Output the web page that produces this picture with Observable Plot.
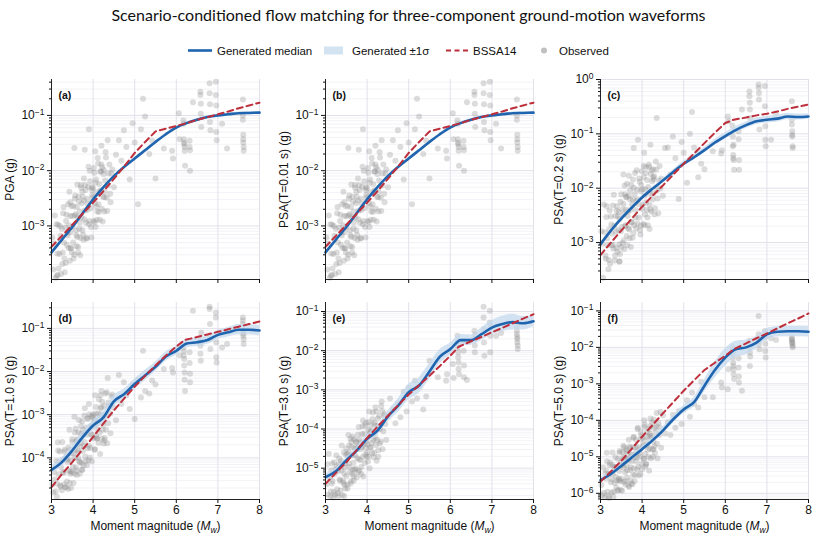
<!DOCTYPE html>
<html>
<head>
<meta charset="utf-8">
<script src="https://cdn.jsdelivr.net/npm/d3@7"></script>
<script src="https://cdn.jsdelivr.net/npm/@observablehq/plot@0.6"></script>
<style>
  body { margin: 0; background: #fff; }
  #fig { position: relative; width: 817px; height: 536px; overflow: hidden; background: #fff;
         font-family: "Liberation Sans", Arial, sans-serif; }
  #title { position: absolute; left: 0; top: 5px; width: 817px; text-align: center;
           font-family: Lato, "Open Sans", sans-serif; font-size: 16px; color: #111; }
  .panel { position: absolute; }
  .panel svg { overflow: visible; }
</style>
</head>
<body>
<div id="fig">
  <div id="title">Scenario-conditioned flow matching for three-component ground-motion waveforms</div>
</div>
<script>
// ---------- Observed records (moment magnitude, shared by all intensity measures) ----------
const obsMw = [
  3.02,3.04,3.06,3.1,3.12,3.14,3.17,3.2,3.21,3.23,3.25,3.27,3.28,3.3,3.31,3.33,3.34,3.36,3.37,3.38,3.4,3.41,3.42,3.44,3.45,3.46,3.47,3.48,3.49,3.5,
  3.52,3.53,3.55,3.56,3.57,3.59,3.6,3.61,3.63,3.64,3.65,3.67,3.68,3.7,3.71,3.72,3.74,3.75,3.77,3.78,3.8,3.81,3.83,3.85,3.86,3.88,3.9,3.92,3.94,3.95,3.97,3.99,
  4.0,4.01,4.03,4.04,4.06,4.07,4.09,4.1,4.12,4.13,4.15,4.16,4.18,4.19,4.21,4.22,4.24,4.25,4.27,4.29,4.31,4.33,4.36,4.39,4.42,4.46,4.5,4.55,
  4.62,4.68,4.74,4.8,4.88,4.95,5.0,5.08,5.15,5.2,5.25,5.35,5.42,5.5,
  5.7,5.9,5.92,6.06,6.08,6.17,6.18,6.18,6.19,6.19,6.2,6.2,6.21,6.32,6.32,6.33,6.33,6.4,
  6.58,6.58,6.59,6.59,6.6,6.8,6.8,6.81,6.81,6.82,6.95,6.95,6.96,6.96,6.97,7.1,7.22,
  7.6,7.6,7.6,7.61,7.61,7.61,7.62,7.62,
  3.55,3.8,3.9,4.05,4.2,4.35,
  3.08,3.13,3.16,3.19,3.22,3.26,3.29,3.32,3.35,3.39,3.43,3.46,3.5,3.53,3.56,3.58,3.6,3.62,3.64,3.66,
  3.68,3.69,3.71,3.73,3.76,3.78,3.79,3.82,3.84,3.87,3.89,3.91,3.93,3.96,3.98,4.02,4.04,4.06,4.08,4.11,
  4.14,4.17,4.2,4.23,4.26,4.28,4.3,4.34,4.37,4.41,3.15,3.45,3.62,3.74,3.86,3.97,4.09,4.18,4.27,4.44
];

// Observed log10 amplitudes (g), one entry per record above
const obsPGA = [
  -3.21,-3.79,-3.32,-3.94,-2.97,-3.50,-3.77,-3.00,-3.24,-3.87,-3.05,-3.48,-2.77,-3.30,-3.59,-3.03,-3.67,-2.80,-3.34,-3.13,-2.61,-3.40,-2.99,-3.63,-2.82,-3.11,-3.40,-2.64,-3.48,-2.82,
  -3.30,-2.64,-3.52,-2.81,-2.45,-3.08,-3.37,-2.66,-2.84,-3.48,-2.47,-3.05,-2.74,-3.22,-2.26,-2.85,-3.08,-2.47,-3.25,-2.54,-2.72,-2.26,-2.94,-3.22,-2.51,-2.29,-2.97,-2.00,-2.68,-3.02,-2.30,-2.48,
  -2.32,-2.91,-2.04,-2.59,-3.02,-2.16,-2.39,-2.74,-1.87,-2.61,-2.24,-2.89,-2.02,-2.36,-2.69,-1.94,-2.47,-2.06,-2.74,-2.18,-1.76,-2.49,-2.27,-1.89,-2.57,-1.98,-2.30,-1.71,
  -1.45,-1.82,-1.27,-1.57,-2.16,-1.14,-1.49,-2.61,-1.25,-0.70,-1.02,-1.70,-1.46,-2.14,
  -1.60,-1.64,-1.78,-0.96,-1.43,-1.09,-1.15,-1.43,-1.49,-1.52,-1.57,-1.64,-1.91,-1.46,-1.57,-1.63,-2.00,-0.76,
  -0.57,-0.63,-0.79,-0.97,-1.21,-0.42,-0.60,-0.80,-1.12,-1.27,-0.39,-0.63,-0.82,-1.30,-1.45,-1.15,-1.60,
  -0.71,-1.00,-1.08,-1.35,-1.43,-1.49,-1.57,-1.64,
  -1.59,-1.62,-1.25,-1.65,-1.55,-1.45,
  -2.81,-3.90,-2.98,-3.51,-3.18,-3.69,-2.66,-3.84,-2.91,-3.17,-2.38,-3.41,-3.02,-3.59,-2.51,-2.79,-3.17,-2.25,-3.38,-2.56,
  -2.94,-3.53,-2.31,-2.59,-3.16,-2.14,-2.88,-2.35,-3.23,-2.60,-1.93,-2.91,-2.19,-3.21,-2.44,-1.95,-2.93,-2.22,-2.65,-1.77,
  -2.75,-2.37,-1.89,-2.92,-1.99,-2.38,-1.66,-2.73,-2.05,-2.42,-3.89,-2.57,-3.20,-2.38,-2.71,-2.35,-2.89,-2.01,-2.48,-2.05
];
const obsT001 = obsPGA; // PSA at T = 0.01 s coincides with PGA
const obsT02 = [
  -2.79,-3.02,-3.65,-2.81,-3.24,-2.53,-3.05,-3.32,-2.76,-3.39,-2.52,-3.05,-2.84,-2.32,-3.11,-2.69,-3.33,-2.51,-2.80,-3.10,-2.33,-3.17,-2.51,-2.44,-3.03,-2.57,-3.21,-2.25,-2.79,-3.08,
  -2.71,-3.01,-2.29,-2.48,-3.12,-2.11,-2.70,-2.39,-2.88,-1.92,-2.51,-2.74,-2.14,-2.92,-2.21,-2.40,-1.94,-2.63,-2.91,-2.21,-1.99,-2.68,-1.72,-2.40,-2.74,-2.03,-2.21,-2.54,-1.88,-2.77,-2.05,-1.69,
  -2.38,-2.02,-2.66,-1.80,-2.14,-2.48,-1.72,-2.26,-1.85,-2.54,-1.98,-1.57,-2.31,-2.10,-1.74,-2.43,-1.87,-2.21,-1.65,-1.78,-2.37,-1.51,-2.04,-2.46,-1.59,-1.82,-2.14,-1.26,
  -1.25,-1.75,-1.05,-1.45,-2.20,-1.15,-1.35,-1.90,-1.00,-0.60,-1.25,-1.80,-1.55,-1.65,
  -1.32,-1.36,-1.30,-0.68,-0.77,-0.85,-1.05,-1.23,-1.39,-1.45,-1.48,-1.20,-1.66,-0.95,-1.10,-1.48,-1.66,-0.55,
  -0.22,-0.31,-0.43,-0.55,-0.71,-0.09,-0.15,-0.25,-0.37,-0.92,-0.12,-0.49,-0.86,-1.11,-1.23,-1.11,-0.62,
  -0.40,-0.74,-0.83,-0.95,-1.02,-1.05,-1.23,-1.26,
  -1.75,-1.26,-1.11,-1.35,-1.20,-0.71,
  -2.30,-3.30,-2.92,-3.49,-2.41,-2.67,-3.04,-2.12,-3.24,-2.41,-2.77,-3.35,-2.11,-2.39,-2.96,-1.95,-2.68,-2.16,-3.05,-2.43,
  -1.77,-2.76,-2.04,-3.08,-2.30,-1.84,-2.83,-2.11,-2.54,-1.67,-2.65,-2.29,-1.82,-2.85,-1.94,-2.31,-1.59,-2.68,-2.02,-2.40,
  -2.68,-1.61,-2.39,-1.67,-2.10,-1.84,-2.48,-1.66,-2.19,-1.86,-2.33,-3.35,-2.16,-2.62,-2.23,-2.69,-1.61,-2.75,-1.80,-2.00
];
const obsT10 = [
  -4.61,-4.80,-4.33,-4.78,-4.07,-4.60,-4.38,-3.85,-4.64,-4.22,-4.75,-4.04,-4.33,-4.61,-3.85,-4.68,-4.02,-3.96,-4.55,-4.09,-4.72,-3.76,-4.30,-4.58,-3.82,-4.06,-4.70,-3.90,-4.34,-3.63,
  -4.21,-3.90,-4.37,-3.41,-4.00,-4.23,-3.61,-4.40,-3.68,-3.87,-3.41,-4.08,-4.37,-3.65,-3.44,-4.12,-3.15,-3.84,-4.17,-3.46,-3.63,-3.97,-3.30,-4.17,-3.46,-3.09,-3.72,-3.99,-3.27,-3.46,-4.08,-3.06,
  -3.00,-3.54,-3.12,-3.81,-3.23,-2.82,-3.55,-3.34,-2.97,-3.65,-3.08,-3.42,-2.85,-2.99,-3.56,-2.70,-3.23,-3.67,-2.80,-3.03,-3.35,-2.48,-3.20,-2.81,-3.43,-2.53,-2.84,-3.13,
  -2.08,-2.75,-2.25,-2.55,-2.87,-2.30,-3.10,-2.20,-2.60,-1.52,-2.45,-2.51,-2.21,-2.30,
  -1.94,-1.92,-2.02,-1.45,-1.62,-1.44,-1.53,-1.63,-1.71,-1.86,-2.02,-2.19,-2.45,-1.55,-1.80,-2.05,-2.25,-0.59,
  -1.40,-1.59,-1.75,-1.30,-1.10,-0.50,-0.55,-0.90,-1.25,-1.48,-0.63,-0.75,-1.32,-1.67,-1.79,-1.44,-1.36,
  -0.75,-0.82,-0.90,-1.05,-1.12,-1.17,-1.25,-1.36,
  -3.05,-2.85,-2.75,-2.55,-2.45,-2.15,
  -4.50,-4.90,-3.83,-4.10,-4.67,-3.63,-4.35,-3.81,-4.68,-4.04,-3.35,-4.31,-3.57,-4.58,-3.80,-3.32,-4.30,-3.57,-4.00,-3.12,
  -4.10,-3.73,-3.26,-4.28,-3.35,-3.73,-3.02,-4.08,-3.41,-3.78,-4.06,-2.99,-3.77,-3.03,-3.46,-3.17,-3.80,-2.98,-3.51,-3.18,
  -2.64,-3.91,-2.83,-3.35,-3.02,-3.54,-2.51,-3.66,-2.72,-2.97,-3.64,-4.37,-3.82,-4.27,-3.09,-3.27,-3.55,-2.55,-3.60,-2.58
];
const obsT30 = [
  -5.41,-4.90,-5.68,-5.24,-5.72,-5.06,-5.33,-5.61,-4.85,-5.68,-5.02,-4.95,-5.54,-5.07,-5.71,-4.75,-5.29,-5.57,-4.81,-5.05,-5.69,-4.88,-5.32,-4.60,-5.14,-5.43,-4.88,-5.52,-4.66,-5.20,
  -4.63,-5.42,-4.70,-4.88,-4.42,-5.10,-5.39,-4.68,-4.46,-5.15,-4.19,-4.86,-5.20,-4.48,-4.67,-5.01,-4.34,-5.23,-4.50,-4.14,-4.77,-5.06,-4.34,-4.52,-5.15,-4.13,-4.71,-4.39,-4.87,-3.91,-4.48,-4.71,
  -4.60,-4.39,-4.02,-4.70,-4.13,-4.47,-3.90,-4.04,-4.61,-3.75,-4.28,-4.72,-3.84,-4.08,-4.41,-3.55,-4.28,-3.92,-4.54,-3.67,-4.00,-4.32,-3.54,-4.06,-3.62,-4.28,-3.68,-3.22,
  -3.50,-3.85,-3.35,-3.70,-3.05,-3.55,-2.94,-3.30,-2.77,-3.22,-2.90,-3.50,-3.17,-2.26,
  -2.68,-2.77,-2.60,-2.34,-2.70,-1.62,-1.75,-1.92,-2.04,-2.17,-2.30,-2.47,-2.60,-1.75,-2.00,-2.38,-2.68,-2.75,
  -1.49,-1.70,-1.87,-2.04,-1.60,-0.88,-1.15,-1.45,-1.79,-2.13,-0.98,-1.28,-1.62,-2.04,-1.40,-1.62,-1.55,
  -1.37,-1.49,-1.58,-1.65,-1.70,-1.79,-1.87,-1.96,
  -4.15,-3.95,-3.78,-3.55,-3.45,-3.30,
  -4.63,-5.60,-4.88,-5.75,-5.15,-4.67,-5.64,-4.90,-5.32,-4.42,-5.38,-4.99,-4.50,-5.52,-4.59,-4.97,-4.25,-5.33,-4.66,-5.04,
  -5.32,-4.26,-5.04,-4.32,-4.74,-4.46,-5.10,-4.27,-4.79,-4.46,-3.93,-5.21,-4.13,-4.65,-4.32,-4.83,-3.82,-5.00,-4.08,-4.36,
  -3.58,-4.61,-4.23,-4.81,-3.73,-4.00,-4.37,-3.41,-4.52,-3.66,-5.39,-5.71,-4.33,-4.51,-4.97,-3.84,-4.47,-3.90,-4.71,-3.87
];
const obsT50 = [
  -5.77,-6.06,-5.29,-6.11,-5.45,-5.38,-5.96,-5.48,-6.13,-5.16,-5.70,-5.98,-5.22,-5.46,-6.10,-5.28,-5.72,-5.01,-5.55,-5.84,-5.28,-5.92,-5.06,-5.60,-5.39,-4.88,-5.67,-5.26,-5.91,-5.10,
  -5.93,-5.22,-5.00,-5.69,-4.74,-5.42,-5.76,-5.05,-5.23,-5.57,-4.91,-5.79,-5.08,-4.72,-5.36,-5.65,-4.93,-5.12,-5.75,-4.74,-5.32,-5.01,-5.50,-4.53,-5.12,-5.35,-4.73,-5.51,-4.80,-4.99,-4.52,-5.20,
  -5.34,-4.48,-4.71,-5.05,-4.18,-4.92,-4.55,-5.19,-4.32,-4.67,-5.00,-4.24,-4.77,-4.36,-5.04,-4.48,-4.06,-4.80,-4.58,-4.21,-4.89,-4.32,-4.64,-4.07,-4.19,-4.75,-3.86,-4.36,
  -4.05,-4.40,-3.85,-4.20,-3.75,-4.10,-3.70,-3.45,-3.90,-3.24,-3.55,-3.65,-2.94,-3.37,
  -3.37,-2.96,-3.10,-3.15,-2.60,-2.00,-2.14,-2.28,-2.42,-2.51,-2.60,-2.74,-2.87,-2.30,-2.55,-2.80,-2.96,-3.19,
  -1.82,-2.00,-2.14,-2.51,-2.25,-1.14,-1.64,-1.78,-1.91,-2.05,-1.55,-1.73,-1.90,-2.10,-2.28,-1.75,-1.80,
  -1.73,-1.78,-1.80,-1.85,-1.87,-1.91,-1.96,-2.00,
  -4.70,-4.45,-4.20,-4.00,-3.95,-3.80,
  -5.99,-5.60,-5.13,-6.08,-5.24,-5.61,-4.88,-5.96,-5.28,-5.65,-5.91,-4.84,-5.60,-4.87,-5.29,-5.03,-5.66,-4.84,-5.37,-5.05,
  -4.53,-5.83,-4.76,-5.29,-4.96,-5.49,-4.48,-5.66,-4.74,-5.01,-4.24,-5.27,-4.90,-5.48,-4.41,-4.67,-5.05,-4.13,-5.27,-4.44,
  -4.81,-5.38,-4.16,-4.43,-5.00,-3.98,-4.71,-4.17,-5.04,-4.40,-4.89,-5.64,-4.79,-5.73,-4.87,-4.32,-5.21,-4.42,-4.79,-3.77
];

// ---------- Generated median and spread (log10 g) on a magnitude grid ----------
const genMw = [3,3.25,3.5,3.75,4,4.25,4.5,4.75,5,5.25,5.5,5.75,6,6.25,6.5,6.75,7,7.25,7.5,7.75,8];
const medPGA = [-3.48,-3.25,-3.02,-2.77,-2.52,-2.30,-2.10,-1.93,-1.78,-1.63,-1.48,-1.34,-1.22,-1.14,-1.08,-1.03,-1.00,-0.98,-0.96,-0.955,-0.95];
const sigPGA = [0.02,0.02,0.02,0.02,0.02,0.02,0.02,0.02,0.02,0.02,0.02,0.02,0.02,0.02,0.02,0.02,0.02,0.02,0.02,0.02,0.02];
const medT001 = medPGA;
const sigT001 = sigPGA;
const medT02 = [-3.03,-2.78,-2.56,-2.36,-2.17,-2.01,-1.86,-1.70,-1.55,-1.43,-1.30,-1.16,-1.04,-0.93,-0.84,-0.77,-0.74,-0.72,-0.68,-0.69,-0.68];
const sigT02 = [0.03,0.03,0.03,0.03,0.03,0.03,0.035,0.04,0.045,0.05,0.05,0.055,0.06,0.06,0.06,0.06,0.06,0.06,0.06,0.055,0.05];
const medT10 = [-4.28,-4.10,-3.83,-3.52,-3.25,-3.06,-2.69,-2.52,-2.29,-2.09,-1.89,-1.65,-1.52,-1.35,-1.32,-1.27,-1.15,-1.09,-1.03,-1.03,-1.05];
const sigT10 = [0.10,0.10,0.11,0.12,0.12,0.13,0.13,0.12,0.12,0.12,0.11,0.11,0.10,0.10,0.10,0.10,0.10,0.11,0.12,0.12,0.12];
const medT30 = [-5.23,-5.08,-4.80,-4.55,-4.25,-4.04,-3.68,-3.40,-3.06,-2.89,-2.53,-2.15,-1.96,-1.73,-1.73,-1.58,-1.41,-1.32,-1.27,-1.30,-1.25];
const sigT30 = [0.08,0.08,0.08,0.09,0.10,0.12,0.14,0.17,0.20,0.20,0.20,0.18,0.15,0.14,0.13,0.16,0.18,0.20,0.20,0.17,0.13];
const medT50 = [-5.64,-5.47,-5.25,-5.02,-4.79,-4.55,-4.28,-3.97,-3.70,-3.50,-3.05,-2.62,-2.28,-2.05,-2.00,-1.87,-1.64,-1.57,-1.56,-1.56,-1.57];
const sigT50 = [0.06,0.06,0.06,0.07,0.07,0.08,0.09,0.10,0.11,0.13,0.17,0.22,0.24,0.22,0.20,0.17,0.15,0.14,0.14,0.14,0.14];

// ---------- BSSA14 ground-motion model medians (log10 g) ----------
const bssaMwShort = [3,3.25,3.5,3.75,4,4.25,4.5,4.75,5,5.25,5.5,5.75,6,6.25,6.5,6.75,7,7.25,7.5,7.75,8]; // hinge Mh = 5.5
const bssaMwLong  = [3,3.25,3.5,3.75,4,4.25,4.5,4.75,5,5.25,5.5,5.75,6,6.2,6.5,6.75,7,7.25,7.5,7.75,8];  // hinge Mh = 6.2
const bssaPGA  = [-3.38,-3.18,-2.98,-2.78,-2.58,-2.37,-2.15,-1.92,-1.68,-1.48,-1.29,-1.24,-1.19,-1.14,-1.08,-1.03,-0.98,-0.93,-0.87,-0.82,-0.77];
const bssaT001 = bssaPGA;
const bssaT02  = [-3.23,-3.00,-2.78,-2.56,-2.34,-2.14,-1.95,-1.75,-1.55,-1.36,-1.17,-0.98,-0.80,-0.74,-0.70,-0.66,-0.63,-0.59,-0.54,-0.50,-0.46];
const bssaT10  = [-4.68,-4.38,-4.10,-3.80,-3.52,-3.20,-2.90,-2.62,-2.35,-2.10,-1.86,-1.63,-1.42,-1.27,-1.20,-1.14,-1.08,-1.02,-0.96,-0.90,-0.84];
const bssaT30  = [-5.40,-5.12,-4.85,-4.54,-4.23,-3.94,-3.66,-3.39,-3.12,-2.88,-2.64,-2.39,-2.13,-1.90,-1.76,-1.65,-1.53,-1.42,-1.30,-1.18,-1.07];
const bssaT50  = [-5.68,-5.40,-5.11,-4.78,-4.45,-4.13,-3.81,-3.50,-3.19,-2.90,-2.62,-2.42,-2.23,-2.05,-1.89,-1.75,-1.62,-1.48,-1.34,-1.21,-1.07];

// ---------- Panel definitions ----------
const panelTags = ["(a)","(b)","(c)","(d)","(e)","(f)"];
const yLabels = ["PGA (g)","PSA(T=0.01 s) (g)","PSA(T=0.2 s) (g)","PSA(T=1.0 s) (g)","PSA(T=3.0 s) (g)","PSA(T=5.0 s) (g)"];
const yRanges = [[-3.97,-0.35],[-3.97,-0.35],[-3.68,0],[-4.965,-0.4],[-5.8,-0.77],[-6.17,-0.77]]; // log10 extents
const xTicks = [3,4,5,6,7,8];
const xLabel = "Moment magnitude (Mw)";

const panels = [
  {obs: obsPGA,  med: medPGA,  sig: sigPGA,  bssa: bssaPGA,  bssaMw: bssaMwShort},
  {obs: obsT001, med: medT001, sig: sigT001, bssa: bssaT001, bssaMw: bssaMwShort},
  {obs: obsT02,  med: medT02,  sig: sigT02,  bssa: bssaT02,  bssaMw: bssaMwLong},
  {obs: obsT10,  med: medT10,  sig: sigT10,  bssa: bssaT10,  bssaMw: bssaMwLong},
  {obs: obsT30,  med: medT30,  sig: sigT30,  bssa: bssaT30,  bssaMw: bssaMwLong},
  {obs: obsT50,  med: medT50,  sig: sigT50,  bssa: bssaT50,  bssaMw: bssaMwLong}
];

const BLUE = "#1f64ae", BAND = "#c6daee", RED = "#be2f3c", DOT = "#8c8c8c";
const GRID = "#e1e1ea", GRID_MINOR = "#eeeef4";
const fig = document.getElementById("fig");
const NS = "http://www.w3.org/2000/svg";

function superscriptTicks(svg) {
  svg.querySelectorAll('g[aria-label="y-axis tick label"] text').forEach(t => {
    const s = t.textContent;
    if (!s.includes("^")) return;
    const [base, exp] = s.split("^");
    t.textContent = "";
    const a = document.createElementNS(NS, "tspan");
    a.textContent = base;
    const b = document.createElementNS(NS, "tspan");
    b.textContent = exp.replace("-", "\u2212");
    b.setAttribute("dy", "-0.5em");
    b.setAttribute("font-size", "8.5");
    t.append(a, b);
  });
}

function styleXLabel(svg) {
  svg.querySelectorAll('g[aria-label="x-axis label"] text').forEach(t => {
    t.textContent = "";
    const parts = [
      ["Moment magnitude (", {}],
      ["M", {"font-style": "italic"}],
      ["w", {"font-style": "italic", "font-size": "8.5", dy: "3"}],
      [")", {dy: "-3"}]
    ];
    for (const [txt, attrs] of parts) {
      const sp = document.createElementNS(NS, "tspan");
      sp.textContent = txt;
      for (const k in attrs) sp.setAttribute(k, attrs[k]);
      t.append(sp);
    }
  });
}

panels.forEach((p, i) => {
  const row = Math.floor(i / 3), col = i % 3;
  const [lo, hi] = yRanges[i];
  const yDomain = [10 ** lo, 10 ** hi];
  const majors = d3.range(Math.ceil(lo), Math.floor(hi) + 1).map(e => 10 ** e);
  const minors = [];
  for (let e = Math.floor(lo); e < Math.ceil(hi); e++)
    for (let k = 2; k <= 9; k++) {
      const v = k * 10 ** e;
      if (v >= yDomain[0] && v <= yDomain[1]) minors.push(v);
    }

  const obs = obsMw.map((m, j) => ({m, v: 10 ** p.obs[j]}));
  const gen = genMw.map((m, j) => ({m, med: 10 ** p.med[j], lo: 10 ** (p.med[j] - p.sig[j]), hi: 10 ** (p.med[j] + p.sig[j])}));
  const bssa = p.bssaMw.map((m, j) => ({m, v: 10 ** p.bssa[j]}));

  const mt = 9, plotH = row === 0 ? 200 : 197, mb = row === 0 ? 10 : 40;
  const mL = 51, mR = 8, plotW = 208;

  const chart = Plot.plot({
    width: mL + plotW + mR,
    height: mt + plotH + mb,
    marginLeft: mL, marginRight: mR, marginTop: mt, marginBottom: mb,
    style: {fontFamily: '"Liberation Sans", Arial, sans-serif', fontSize: "12px", color: "#111", background: "transparent"},
    x: {domain: [3, 8]},
    y: {type: "log", domain: yDomain},
    marks: [
      Plot.ruleY(minors, {stroke: GRID_MINOR, strokeWidth: 0.7}),
      Plot.ruleY(majors, {stroke: GRID, strokeWidth: 1}),
      Plot.ruleX(xTicks, {stroke: GRID, strokeWidth: 1}),
      Plot.dot(obs, {x: "m", y: "v", r: 3, fill: DOT, fillOpacity: 0.3, stroke: "none"}),
      Plot.areaY(gen, {x: "m", y1: "lo", y2: "hi", fill: BAND, fillOpacity: 0.75, curve: "monotone-x"}),
      Plot.line(gen, {x: "m", y: "med", stroke: BLUE, strokeWidth: 2.6, curve: "monotone-x"}),
      Plot.line(bssa, {x: "m", y: "v", stroke: RED, strokeWidth: 2, strokeDasharray: "6,4"}),
      Plot.ruleX([3], {stroke: "#222", strokeWidth: 1}),
      Plot.ruleY([yDomain[0]], {stroke: "#222", strokeWidth: 1}),
      Plot.axisY({ticks: minors, tickSize: 2, tickFormat: () => "", label: null}),
      Plot.axisY({
        ticks: majors, tickSize: 4, tickPadding: 3,
        tickFormat: d => "10^" + Math.round(Math.log10(d)),
        label: yLabels[i], labelAnchor: "center", labelArrow: "none", labelOffset: 46
      }),
      Plot.axisX({
        ticks: xTicks, tickSize: 4, tickPadding: 2,
        tickFormat: row === 0 ? () => "" : d => String(d),
        label: row === 0 ? null : xLabel, labelAnchor: "center", labelArrow: "none", labelOffset: 30
      }),
      Plot.text([panelTags[i]], {text: d => d, frameAnchor: "top-left", dx: 7, dy: 12, fontWeight: "bold", fontSize: 10.5, textAnchor: "start"})
    ]
  });
  superscriptTicks(chart);
  styleXLabel(chart);
  const holder = document.createElement("div");
  holder.className = "panel";
  holder.style.left = [0, 274, 549][col] + "px";
  holder.style.top = (row === 0 ? 70 : 293) + "px";
  holder.appendChild(chart);
  fig.appendChild(holder);
});

// ---------- Legend ----------
const legendItems = [
  {kind: "line", label: "Generated median", x: 188},
  {kind: "band", label: "Generated \u00b11\u03c3", x: 324},
  {kind: "dash", label: "BSSA14", x: 446},
  {kind: "dot", label: "Observed", x: 538}
];
const leg = d3.select(fig).append("svg")
  .attr("width", 817).attr("height", 24)
  .style("position", "absolute").style("left", "0px").style("top", "38px")
  .style("font-family", '"Liberation Sans", Arial, sans-serif').style("font-size", "11.5px");
const cy = 12.5;
for (const it of legendItems) {
  const g = leg.append("g");
  let tx;
  if (it.kind === "line") {
    g.append("line").attr("x1", it.x).attr("x2", it.x + 24).attr("y1", cy).attr("y2", cy).attr("stroke", BLUE).attr("stroke-width", 2.6);
    tx = it.x + 29;
  } else if (it.kind === "band") {
    g.append("rect").attr("x", it.x).attr("y", cy - 4).attr("width", 19).attr("height", 8).attr("fill", BAND).attr("fill-opacity", 0.75);
    tx = it.x + 28;
  } else if (it.kind === "dash") {
    g.append("line").attr("x1", it.x).attr("x2", it.x + 22).attr("y1", cy).attr("y2", cy).attr("stroke", RED).attr("stroke-width", 2).attr("stroke-dasharray", "5,3.5");
    tx = it.x + 27;
  } else {
    g.append("circle").attr("cx", it.x + 6).attr("cy", cy).attr("r", 3).attr("fill", DOT).attr("fill-opacity", 0.55);
    tx = it.x + 21;
  }
  g.append("text").attr("x", tx).attr("y", cy).attr("dy", "0.35em").attr("fill", "#111").text(it.label);
}
</script>
</body>
</html>
